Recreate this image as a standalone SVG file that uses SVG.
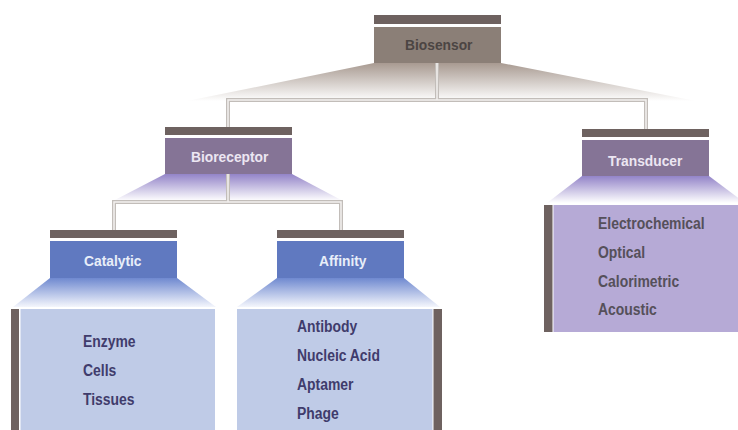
<svg xmlns="http://www.w3.org/2000/svg" width="738" height="430" viewBox="0 0 738 430">
<defs>
<linearGradient id="gBrown" x1="0" y1="0" x2="0" y2="1"><stop offset="0" stop-color="#a89a91"/><stop offset="1" stop-color="#ffffff"/></linearGradient>
<linearGradient id="gPurple" x1="0" y1="0" x2="0" y2="1"><stop offset="0" stop-color="#9384c8"/><stop offset="1" stop-color="#ffffff"/></linearGradient>
<linearGradient id="gBlue" x1="0" y1="0" x2="0" y2="1"><stop offset="0" stop-color="#6f89d0"/><stop offset="1" stop-color="#f4f6fc"/></linearGradient>
<style>
.bar{fill:#6e6260}
.bBrown{fill:#8b7f77}
.bPurple{fill:#857496}
.bBlue{fill:#6079c0}
.pBlue{fill:#bfcbe7}
.pPurple{fill:#b6aad6}
.t{font-family:"Liberation Sans",Arial,sans-serif;font-weight:bold;font-size:15px}
.ti{font-family:"Liberation Sans",Arial,sans-serif;font-weight:bold;font-size:16px}
.dk{fill:#4b4543}
.lt{fill:#ece6f2}
.lb{fill:#e8eef9}
.nv{fill:#3f3c6c}
.gr{fill:#55505a}
.c1{fill:none;stroke:#c2bdb9;stroke-width:4}
.c2{fill:none;stroke:#f3f1ef;stroke-width:1.5}
</style>
</defs>
<rect width="738" height="430" fill="#ffffff"/>
<g id="fans">
<polygon points="374,63 501,63 696,101 187,101" fill="url(#gBrown)"/>
<polygon points="165,174 292,174 343,201 113,201" fill="url(#gPurple)"/>
<polygon points="582,176 709,176 745,203 547,203" fill="url(#gPurple)"/>
<polygon points="50,278 177,278 216,307 13,307" fill="url(#gBlue)"/>
<polygon points="277,278 404,278 440,307 237,307" fill="url(#gBlue)"/>
</g>
<g id="connectors">
<path class="c1" d="M437,63 V100 M228,127 V100 H646 V129"/>
<path class="c2" d="M437,63 V100 M228,127 V100 H646 V129"/>
<path class="c1" d="M228,174 V202 M114,230 V202 H341 V230"/>
<path class="c2" d="M228,174 V202 M114,230 V202 H341 V230"/>
</g>
<g id="biosensor">
<rect class="bar" x="374" y="15" width="127" height="9"/>
<rect class="bBrown" x="374" y="27" width="127" height="36"/>
<text class="t dk" transform="translate(405,50) scale(0.92,1)">Biosensor</text>
</g>
<g id="bioreceptor">
<rect class="bar" x="165" y="127" width="127" height="8"/>
<rect class="bPurple" x="165" y="138" width="127" height="36"/>
<text class="t lt" transform="translate(191,162) scale(0.92,1)">Bioreceptor</text>
</g>
<g id="transducer">
<rect class="bar" x="582" y="129" width="127" height="8"/>
<rect class="bPurple" x="582" y="140" width="127" height="36"/>
<text class="t lt" transform="translate(608,166) scale(0.92,1)">Transducer</text>
</g>
<g id="transducer-list">
<rect class="bar" x="544" y="205" width="8.5" height="127"/>
<rect class="pPurple" x="553.5" y="205" width="185" height="127"/>
<text class="ti gr" transform="translate(598,229) scale(0.87,1)">Electrochemical</text>
<text class="ti gr" transform="translate(598,258) scale(0.87,1)">Optical</text>
<text class="ti gr" transform="translate(598,287) scale(0.87,1)">Calorimetric</text>
<text class="ti gr" transform="translate(598,315) scale(0.87,1)">Acoustic</text>
</g>
<g id="catalytic">
<rect class="bar" x="50" y="230" width="127" height="8"/>
<rect class="bBlue" x="50" y="241" width="127" height="37"/>
<text class="t lb" transform="translate(84,266) scale(0.92,1)">Catalytic</text>
</g>
<g id="catalytic-list">
<rect class="bar" x="11" y="309" width="8" height="121"/>
<rect class="pBlue" x="20.5" y="309" width="194.5" height="121"/>
<text class="ti nv" transform="translate(83,347) scale(0.87,1)">Enzyme</text>
<text class="ti nv" transform="translate(83,376) scale(0.87,1)">Cells</text>
<text class="ti nv" transform="translate(83,405) scale(0.87,1)">Tissues</text>
</g>
<g id="affinity">
<rect class="bar" x="277" y="230" width="127" height="8"/>
<rect class="bBlue" x="277" y="241" width="127" height="37"/>
<text class="t lb" transform="translate(319,266) scale(0.92,1)">Affinity</text>
</g>
<g id="affinity-list">
<rect class="pBlue" x="237" y="309" width="195.5" height="121"/>
<rect class="bar" x="433.5" y="309" width="8.5" height="121"/>
<text class="ti nv" transform="translate(297,332) scale(0.87,1)">Antibody</text>
<text class="ti nv" transform="translate(297,361) scale(0.87,1)">Nucleic Acid</text>
<text class="ti nv" transform="translate(297,390) scale(0.87,1)">Aptamer</text>
<text class="ti nv" transform="translate(297,419) scale(0.87,1)">Phage</text>
</g>
</svg>
